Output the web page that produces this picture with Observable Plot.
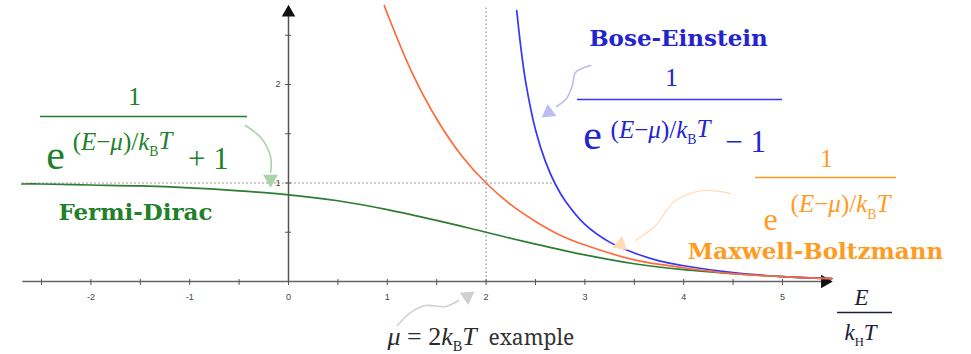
<!DOCTYPE html>
<html><head><meta charset="utf-8">
<script src="https://cdn.jsdelivr.net/npm/d3@7"></script>
<script src="https://cdn.jsdelivr.net/npm/@observablehq/plot@0.6"></script>
<style>body{margin:0;background:#fff}#chart{width:971px;height:354px}</style>
</head><body><div id="chart"></div>
<script>
// Mean occupation number vs E/kT for the three statistics, with μ = 2kT.
const fdE = [-2.7, -2.5, -2, -1.5, -1, -0.5, 0, 0.5, 1, 1.5, 2, 2.5, 3, 3.5, 4, 4.5, 5, 5.5];
const fdN = [0.99, 0.99, 0.98, 0.97, 0.95, 0.92, 0.88, 0.82, 0.73, 0.62, 0.50, 0.38, 0.27, 0.18, 0.12, 0.08, 0.05, 0.03];
const mbE = [0.97, 1, 1.25, 1.5, 1.75, 2, 2.25, 2.5, 2.75, 3, 3.5, 4, 4.5, 5, 5.5];
const mbN = [2.80, 2.72, 2.12, 1.65, 1.28, 1.00, 0.78, 0.61, 0.47, 0.37, 0.22, 0.14, 0.08, 0.05, 0.03];
const beE = [2.31, 2.35, 2.4, 2.5, 2.6, 2.7, 2.8, 3, 3.25, 3.5, 3.75, 4, 4.5, 5, 5.5];
const beN = [2.75, 2.39, 2.03, 1.54, 1.22, 0.99, 0.82, 0.58, 0.40, 0.29, 0.21, 0.16, 0.09, 0.05, 0.03];
const xTickLabels = [-2, -1, 0, 1, 2, 3, 4, 5];
const yTickLabels = [1, 2];
const mu = 2;

const fd = fdE.map((e, i) => ({e, n: fdN[i]}));
const mb = mbE.map((e, i) => ({e, n: mbN[i]}));
const be = beE.map((e, i) => ({e, n: beN[i]}));
const xMinor = d3.range(-2.5, 5.01, 0.5);
const yMinor = d3.range(0.5, 2.51, 0.5);

const GREEN = "#2e7d32", GREEN_T = "#23802a";
const BLUE = "#3535ff", BLUE_T = "#2323d0";
const ORANGE = "#ff6a3a", ORANGE_T = "#ff9b1f";
const SERIF = "'Liberation Serif', 'Times New Roman', serif";
const NOTO = "'Noto Serif', serif";
const BOLD = "'DejaVu Serif', serif";
const SANS = "'Liberation Sans', Arial, sans-serif";

// curved pointer: tail polyline + filled head
function pointer(pts, head, rot, color, w = 1.6) {
  return [
    Plot.line(pts, {x: "0", y: "1", stroke: color, strokeWidth: w, curve: "catmull-rom"}),
    Plot.dot([head], {x: "0", y: "1", symbol: "triangle", r: 5.5, fill: color, rotate: rot})
  ];
}
const txt = (s, x, y, o) => Plot.text([s], {x: () => x, y: () => y, text: d => d, fontFamily: SERIF, ...o});
const bar = (y, x1, x2, color) => Plot.ruleY([y], {x1, x2, stroke: color, strokeWidth: 1.6});

const chart = Plot.plot({
  width: 971, height: 354, margin: 0,
  x: {domain: [-2.915, 6.913], axis: null},
  y: {domain: [-0.741, 2.853], axis: null},
  style: {background: "white", overflow: "visible"},
  marks: [
    // guides through μ and n = 1
    Plot.ruleY([1], {x1: -2.69, x2: 2.70, stroke: "#777", strokeDasharray: "1.5,2.5", strokeWidth: 1}),
    Plot.ruleX([mu], {y1: 0, y2: 2.78, stroke: "#777", strokeDasharray: "1.5,2.5", strokeWidth: 1}),
    // axes through the origin
    Plot.ruleY([0], {x1: -2.69, x2: 5.42, stroke: "#666", strokeWidth: 1.5}),
    Plot.ruleX([0], {y1: 0, y2: 2.70, stroke: "#555", strokeWidth: 1.5}),
    Plot.ruleX(xMinor, {x: d => d, y1: 0.02, y2: -0.04, stroke: "#555", strokeWidth: 1}),
    Plot.ruleY(yMinor, {y: d => d, x1: -0.03, x2: 0.03, stroke: "#555", strokeWidth: 1}),
    Plot.dot([0], {x: 5.43, y: 0, symbol: "triangle", r: 5, fill: "#111", rotate: 90}),
    Plot.dot([0], {x: 0, y: 2.73, symbol: "triangle", r: 5, fill: "#111", rotate: 0}),
    Plot.text(xTickLabels, {x: d => d, y: -0.155, text: d => String(d), fontFamily: SANS, fontSize: 9, fill: "#444"}),
    Plot.text(yTickLabels, {x: -0.08, y: d => d, text: d => String(d), textAnchor: "end", fontFamily: SANS, fontSize: 9, fill: "#444"}),
    // distributions
    Plot.line(fd, {x: "e", y: "n", stroke: GREEN, strokeWidth: 1.7, curve: "catmull-rom"}),
    Plot.line(be, {x: "e", y: "n", stroke: BLUE, strokeWidth: 1.7, curve: "catmull-rom"}),
    Plot.line(mb, {x: "e", y: "n", stroke: ORANGE, strokeWidth: 1.7, curve: "catmull-rom"}),
    // Fermi-Dirac formula
    txt("1", -1.559, 1.878, {fontSize: 26, fill: GREEN_T}),
    bar(1.675, -2.51, -0.415, GREEN_T),
    txt("e", -2.358, 1.277, {fontSize: 42, fill: GREEN_T}),
    txt("(*E*−*μ*)/*k*_B*T*", -1.68, 1.421, {fontSize: 25, fill: GREEN_T}),
    txt("+ 1", -0.81, 1.239, {fontSize: 31, fill: GREEN_T}),
    txt("Fermi-Dirac", -1.549, 0.70, {fontSize: 23, fontWeight: "bold", fontFamily: BOLD, fill: GREEN_T}),
    ...pointer([[-0.435, 1.584], [-0.27, 1.45], [-0.18, 1.26], [-0.18, 1.11]], [-0.182, 1.04], 180, "#a9d3a9"),
    // Bose-Einstein formula
    txt("Bose-Einstein", 3.947, 2.467, {fontSize: 23, fontWeight: "bold", fontFamily: BOLD, fill: BLUE_T}),
    txt("1", 3.877, 2.066, {fontSize: 26, fill: BLUE_T}),
    bar(1.848, 2.925, 5.0, BLUE),
    txt("e", 3.077, 1.478, {fontSize: 42, fill: BLUE_T}),
    txt("(*E*−*μ*)/*k*_B*T*", 3.765, 1.543, {fontSize: 25, fill: BLUE_T}),
    txt("− 1", 4.626, 1.411, {fontSize: 31, fill: BLUE_T}),
    ...pointer([[3.057, 2.193], [2.905, 2.122], [2.874, 1.99], [2.814, 1.858], [2.713, 1.777]], [2.632, 1.716], 234, "#bcbcf2"),
    // Maxwell-Boltzmann formula
    txt("1", 5.445, 1.244, {fontSize: 25, fill: ORANGE_T}),
    bar(1.056, 4.727, 6.154, ORANGE_T),
    txt("e", 4.879, 0.623, {fontSize: 32, fill: ORANGE_T}),
    txt("(*E*−*μ*)/*k*_B*T*", 5.587, 0.782, {fontSize: 25, fill: ORANGE_T}),
    txt("Maxwell-Boltzmann", 5.334, 0.305, {fontSize: 23, fontWeight: "bold", fontFamily: BOLD, fill: ORANGE_T}),
    ...pointer([[4.474, 0.893], [4.2, 0.924], [3.917, 0.822], [3.715, 0.569], [3.512, 0.416]], [3.36, 0.376], 250, "#ffdcb5", 1.2),
    // chemical potential note
    txt("*μ* = 2*k*_B*T*", 1.002, -0.558, {fontSize: 26, textAnchor: "start", fill: "#2a2a2a"}),
    txt("example", 2.024, -0.577, {fontSize: 21, textAnchor: "start", fontFamily: NOTO, fill: "#333"}),
    ...pointer([[1.103, -0.447], [1.235, -0.315], [1.387, -0.244], [1.589, -0.254], [1.721, -0.193]], [1.812, -0.152], 55, "#d0d0d0"),
    // axis title E / kT
    txt("*E*", 5.80, -0.162, {fontSize: 23, fill: "#1c1c3a"}),
    bar(-0.315, 5.557, 6.113, "#1c1c3a"),
    txt("*k*_H*T*", 5.79, -0.518, {fontSize: 23, fill: "#1c1c3a"})
  ]
});

// turn *italic* runs and _X subscripts into tspans
d3.select(chart).selectAll("text").each(function () {
  const s = this.textContent;
  if (!/[_*]/.test(s)) return;
  const runs = [];
  let italic = false, buf = "";
  for (let i = 0; i < s.length; i++) {
    const c = s[i];
    if (c === "*") { if (buf) runs.push({t: buf, italic}); buf = ""; italic = !italic; }
    else if (c === "_") { if (buf) runs.push({t: buf, italic}); buf = ""; runs.push({t: s[i + 1], sub: true}); i++; }
    else buf += c;
  }
  if (buf) runs.push({t: buf, italic});
  const el = d3.select(this).text(null);
  let shifted = false;
  for (const r of runs) {
    const ts = el.append("tspan").text(r.t);
    if (r.italic) ts.attr("font-style", "italic");
    if (r.sub) { ts.attr("font-size", "55%").attr("dy", "0.45em"); shifted = true; }
    else if (shifted) { ts.attr("dy", "-0.25em"); shifted = false; }
  }
});

document.getElementById("chart").appendChild(chart);
</script>
</body></html>
